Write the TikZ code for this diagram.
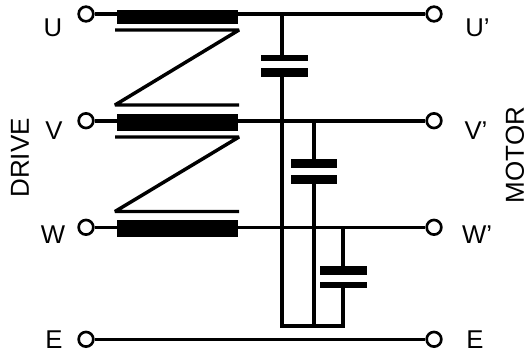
\documentclass[tikz,border=0pt]{standalone}
\usepackage{fontspec}
\setmainfont{Liberation Sans}
\begin{document}
\begin{tikzpicture}[
    x=0.75pt, y=-0.75pt,
    terminal/.style={circle, draw, line width=2pt, fill=white, minimum size=11pt, inner sep=0pt},
    choke/.style={rectangle, fill=black, inner sep=0pt, minimum width=90.75pt},
    plate/.style={rectangle, fill=black, inner sep=0pt, minimum width=35pt},
    wire/.style={line width=2.9pt},
    thinwire/.style={line width=2.4pt},
    winding/.style={line width=2.6pt, line join=bevel},
    label/.style={font=\fontsize{19.3}{19.3}\selectfont, inner sep=0pt},
    sidelabel/.style={font=\fontsize{19.5}{19.5}\selectfont, inner sep=0pt, rotate=90}
]
\useasboundingbox (0,0) rectangle (528,354);

% terminals on the drive side
\node[terminal] (u) at (86,14) {};
\node[terminal] (v) at (86,120.7) {};
\node[terminal] (w) at (86,227.3) {};
\node[terminal] (e) at (86,339.3) {};

% terminals on the motor side
\node[terminal] (u_m) at (434,14) {};
\node[terminal] (v_m) at (434,120.7) {};
\node[terminal] (w_m) at (434,227.3) {};
\node[terminal] (e_m) at (434,339.3) {};

% phase lines
\draw[wire] (u) -- (u_m);
\draw[wire] (v) -- (v_m);
\draw[thinwire] (w) -- (w_m);
\draw[thinwire] (e) -- (e_m);

% chokes
\node[choke, minimum height=10.5pt] (choke_u) at (177.5,17) {};
\node[choke, minimum height=12.75pt] (choke_v) at (177.5,122.5) {};
\node[choke, minimum height=12.75pt] (choke_w) at (177.5,228.5) {};

% coupling windings
\coordinate (z1a) at (115,30);
\coordinate (z1b) at (239,30);
\coordinate (z1c) at (115,105);
\coordinate (z1d) at (239,105);
\coordinate (z2a) at (115,137);
\coordinate (z2b) at (239,137);
\coordinate (z2c) at (115,211.5);
\coordinate (z2d) at (239,211.5);
\draw[winding] (z1a) -- (z1b) -- (z1c) -- (z1d);
\draw[winding] (z2a) -- (z2b) -- (z2c) -- (z2d);

% capacitors
\node[plate, minimum height=4.5pt] (c1a) at (284.5,58) {};
\node[plate, minimum height=6.75pt] (c1b) at (284.5,72.5) {};
\node[plate, minimum height=6.75pt] (c2a) at (314,163.5) {};
\node[plate, minimum height=6.75pt] (c2b) at (314,179.5) {};
\node[plate, minimum height=6.75pt] (c3a) at (343.5,270.5) {};
\node[plate, minimum height=4.5pt] (c3b) at (343.5,285) {};

% star point
\coordinate (t1) at (282,14);
\coordinate (t2) at (314,120.7);
\coordinate (t3) at (343,227.3);
\coordinate (s1) at (282,325.7);
\coordinate (s2) at (314,325.7);
\coordinate (s3) at (343,325.7);
\draw[wire] (t1) -- (t1 |- c1a.north);
\draw[wire] (t2) -- (t2 |- c2a.north);
\draw[wire] (t3) -- (t3 |- c3a.north);
\draw[wire] (s1 |- c1b.south) -- (s1);
\draw[wire] (s2 |- c2b.south) -- (s2);
\draw[wire] (s3 |- c3b.south) -- (s3);
\draw[wire, line cap=rect] (s1) -- (s3);

% labels
\node[label] (lbl_u) at (53,28) {U};
\node[label] (lbl_v) at (54,131) {V};
\node[label] (lbl_w) at (53,235) {W};
\node[label] (lbl_e) at (54,339.5) {E};
\node[label] (lbl_um) at (477.5,28) {U’};
\node[label] (lbl_vm) at (476,131) {V’};
\node[label] (lbl_wm) at (477,235) {W’};
\node[label] (lbl_em) at (475,339.5) {E};
\node[sidelabel] (drive) at (20,158) {DRIVE};
\node[sidelabel] (motor) at (515,155) {MOTOR};
\end{tikzpicture}
\end{document}
